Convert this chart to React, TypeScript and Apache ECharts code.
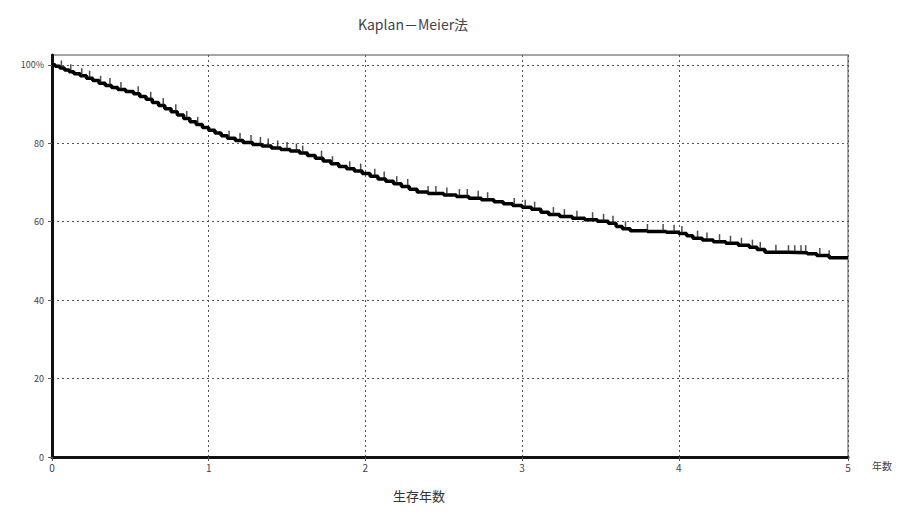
import React, { useEffect, useRef } from "react";
import * as echarts from "echarts";

// Kaplan–Meier survival estimate: [years, survival %] at each event time
const survivalSteps: [number, number][] = [
  [0.0, 100], [0.02, 99.6], [0.05, 99.2], [0.08, 98.7], [0.11, 98.2], [0.14, 97.7],
  [0.18, 97.2], [0.22, 96.6], [0.26, 96.0], [0.3, 95.3], [0.34, 94.7], [0.38, 94.2],
  [0.42, 93.7], [0.47, 93.2], [0.52, 92.6], [0.56, 91.9], [0.6, 91.2], [0.64, 90.4],
  [0.68, 89.6], [0.72, 88.8], [0.76, 88.0], [0.8, 87.2], [0.84, 86.3], [0.88, 85.5],
  [0.92, 84.8], [0.96, 84.0], [1.0, 83.3], [1.04, 82.6], [1.08, 81.9], [1.12, 81.3],
  [1.17, 80.7], [1.22, 80.2], [1.28, 79.7], [1.34, 79.3], [1.4, 78.8], [1.46, 78.4],
  [1.52, 78.0], [1.58, 77.5], [1.63, 76.9], [1.68, 76.2], [1.73, 75.5], [1.78, 74.8],
  [1.83, 74.1], [1.88, 73.5], [1.93, 72.9], [1.98, 72.3], [2.03, 71.6], [2.08, 70.9],
  [2.13, 70.3], [2.18, 69.7], [2.23, 69.0], [2.28, 68.3], [2.33, 67.6], [2.4, 67.2],
  [2.5, 66.8], [2.58, 66.4], [2.66, 66.0], [2.74, 65.6], [2.82, 65.1], [2.88, 64.6],
  [2.94, 64.1], [3.0, 63.7], [3.06, 63.2], [3.12, 62.4], [3.17, 61.8], [3.24, 61.3],
  [3.32, 60.9], [3.4, 60.5], [3.48, 60.1], [3.55, 59.6], [3.6, 58.8], [3.64, 58.2],
  [3.69, 57.7], [3.8, 57.5], [3.92, 57.3], [4.0, 57.0], [4.05, 56.4], [4.09, 55.8],
  [4.15, 55.3], [4.22, 54.9], [4.3, 54.5], [4.38, 54.0], [4.45, 53.5], [4.5, 52.9],
  [4.55, 52.2], [4.7, 52.1], [4.82, 51.8], [4.88, 51.4], [4.96, 50.8], [5.08, 50.8],
];

// Censored observations (years)
const censoredTimes: number[] = [
  0.06, 0.12, 0.19, 0.24, 0.31, 0.37, 0.44, 0.55, 0.63, 0.71, 0.79, 0.86, 0.93,
  1.13, 1.2, 1.27, 1.33, 1.38, 1.44, 1.5, 1.56, 1.6, 1.72, 1.79, 1.9, 1.97,
  2.06, 2.12, 2.2, 2.27, 2.4, 2.45, 2.52, 2.6, 2.65, 2.72, 2.78, 2.95, 3.02,
  3.08, 3.2, 3.27, 3.35, 3.45, 3.52, 3.58, 3.66, 3.8, 3.9, 3.97, 4.02, 4.12,
  4.18, 4.26, 4.33, 4.4, 4.47, 4.52, 4.62, 4.7, 4.74, 4.78, 4.81, 4.9, 4.96,
];

const xTickValues: number[] = [0, 1, 2, 3, 4, 5.08];
const xTickLabels: string[] = ["0", "1", "2", "3", "4", "5"];
const yTickValues: number[] = [0, 20, 40, 60, 80, 100];
const yTickLabels: string[] = ["0", "20", "40", "60", "80", "100%"];

const titleText = "Kaplan－Meier法";
const xAxisName = "生存年数";
const xUnitName = "年数";

// Survival value in effect at time t (last event at or before t)
function survivalAt(t: number): number {
  let s = survivalSteps[0][1];
  for (const [time, value] of survivalSteps) {
    if (time <= t) s = value;
    else break;
  }
  return s;
}

const FONT = "'Noto Sans CJK JP', 'DejaVu Sans', sans-serif";

export default function App() {
  const ref = useRef<HTMLDivElement>(null);

  useEffect(() => {
    if (!ref.current) return;
    const chart = echarts.init(ref.current, null, { renderer: "svg" });
    const gridLine = { show: true, lineStyle: { color: "#555", width: 1, type: [2, 3] as number[] } };

    chart.setOption({
      animation: false,
      backgroundColor: "#fff",
      title: {
        text: titleText,
        left: 408,
        top: 12,
        textAlign: "center",
        textStyle: { fontFamily: FONT, fontSize: 14, fontWeight: "normal", color: "#444" },
      },
      grid: {
        left: 52,
        right: 56,
        top: 55,
        bottom: 56,
        show: true,
        borderColor: "#888",
        borderWidth: 1.5,
        backgroundColor: "transparent",
      },
      xAxis: {
        type: "value",
        min: 0,
        max: 5.08,
        axisLine: { show: true, onZero: false, lineStyle: { color: "#111", width: 3 } },
        axisTick: { show: true, length: 4, customValues: xTickValues, lineStyle: { color: "#555" } },
        axisLabel: {
          customValues: xTickValues,
          formatter: (v: number) => xTickLabels[xTickValues.indexOf(v)] ?? "",
          fontFamily: FONT,
          fontSize: 10,
          color: "#444",
          margin: 5,
        },
        splitLine: gridLine,
      },
      yAxis: {
        type: "value",
        min: 0,
        max: 102.5,
        axisLine: { show: true, onZero: false, lineStyle: { color: "#111", width: 3 } },
        axisTick: { show: true, length: 4, customValues: yTickValues, lineStyle: { color: "#555" } },
        axisLabel: {
          customValues: yTickValues,
          formatter: (v: number) => yTickLabels[yTickValues.indexOf(v)] ?? "",
          fontFamily: FONT,
          fontSize: 9,
          color: "#444",
          margin: 8,
        },
        splitLine: gridLine,
      },
      graphic: [
        {
          type: "text",
          left: 872,
          top: 460,
          style: { text: xUnitName, font: `10px ${FONT}`, fill: "#444" },
        },
        {
          type: "text",
          left: 393,
          top: 489,
          style: { text: xAxisName, font: `13px ${FONT}`, fill: "#333" },
        },
      ],
      series: [
        {
          type: "line",
          step: "end",
          data: survivalSteps,
          showSymbol: false,
          lineStyle: { color: "#000", width: 3.5 },
          z: 3,
        },
        {
          type: "scatter",
          data: censoredTimes.map((t) => [t, survivalAt(t)]),
          symbol: "rect",
          symbolSize: [1.5, 7],
          symbolOffset: [0, -4],
          itemStyle: { color: "#222" },
          z: 4,
        },
      ],
    });

    return () => chart.dispose();
  }, []);

  return (
    <div
      ref={ref}
      style={{ position: "absolute", left: 0, top: 0, width: 904, height: 513 }}
    />
  );
}
